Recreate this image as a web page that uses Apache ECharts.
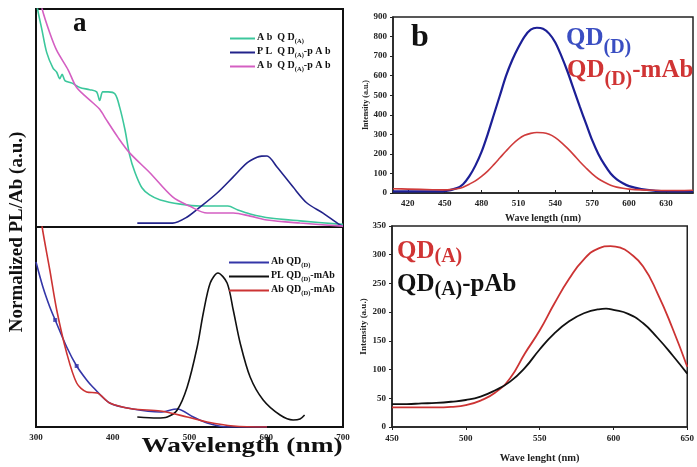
<!DOCTYPE html>
<html><head><meta charset="utf-8">
<script src="https://cdn.jsdelivr.net/npm/echarts@6/dist/echarts.min.js"></script>
<style>html,body{margin:0;padding:0;background:#fff}#c{width:697px;height:467px}</style>
</head><body><div id="c"></div>
<script>
// ---- Panel a (top-left): [wavelength nm, normalized]
var abQDA = [[300,1.08],[301,1.02],[308,0.90],[314,0.80],[322,0.73],[327,0.71],[331,0.68],[334,0.70],[338,0.67],[347,0.66],[357,0.64],[370,0.63],[379,0.62],[383,0.58],[387,0.62],[394,0.62],[403,0.61],[409,0.55],[416,0.445],[422,0.33],[429,0.25],[438,0.18],[448,0.147],[462,0.124],[488,0.105],[514,0.096],[533,0.096],[550,0.096],[563,0.078],[579,0.06],[605,0.041],[644,0.028],[700,0.012]];
var plQDApAb = [[432,0.018],[478,0.018],[497,0.046],[514,0.092],[536,0.156],[557,0.23],[575,0.294],[588,0.32],[594,0.325],[601,0.326],[614,0.275],[635,0.183],[653,0.11],[674,0.064],[696,0.01],[700,0.005]];
var abQDApAb = [[304,1.08],[308,1.0],[318,0.89],[327,0.81],[342,0.72],[353,0.64],[374,0.57],[383,0.54],[392,0.49],[407,0.41],[422,0.34],[448,0.25],[478,0.138],[500,0.096],[523,0.064],[557,0.064],[579,0.05],[601,0.032],[644,0.018],[700,0.004]];
// ---- Panel a (bottom-left)
var abQDD = [[300,0.825],[309,0.70],[318,0.60],[325,0.535],[340,0.40],[353,0.305],[366,0.235],[374,0.20],[396,0.12],[426,0.09],[462,0.075],[484,0.09],[505,0.05],[523,0.02],[549,0.0],[601,0.0]];
var abQDDMarks = [3,5];
var plQDDmAb = [[432,0.05],[458,0.045],[471,0.05],[484,0.085],[497,0.2],[510,0.4],[518,0.57],[527,0.72],[537,0.77],[549,0.72],[557,0.585],[566,0.42],[579,0.25],[596,0.135],[618,0.06],[635,0.035],[644,0.04],[650,0.06]];
var abQDDmAb = [[305,1.1],[308,1.0],[318,0.785],[327,0.585],[340,0.37],[353,0.22],[366,0.175],[380,0.17],[396,0.12],[426,0.09],[462,0.08],[497,0.05],[523,0.025],[557,0.005],[601,0.0]];
var leftTicks = [300,400,500,600,700];
// ---- Panel b (top-right): intensity
var bX = [408,420,440,450,460,465,470,475,480,485,490,495,500,505,510,515,520,525,530,535,540,545,550,555,560,565,570,575,580,585,590,595,600,610,620,630,640,652];
var qdD = [8,8,8,10,25,45,85,140,210,300,400,500,600,680,745,800,835,845,840,815,770,700,620,530,440,355,270,200,145,100,70,50,35,20,12,9,8,8];
var qdDmAb = [22,20,17,16,22,30,45,62,85,112,145,180,215,248,275,295,305,309,308,300,283,258,228,195,160,128,98,73,55,40,30,24,20,16,14,13,13,14];
var bTicks = [420,450,480,510,540,570,600,630];
// ---- bottom-right
var cX = [450,460,470,480,490,500,510,520,530,540,550,560,570,580,590,598,605,610,620,630,640,650];
var qdA = [34,34,34,34,35,38,46,60,85,128,168,215,258,292,311,315,312,305,280,232,172,105];
var cX2 = [450,460,470,480,490,500,510,520,530,540,550,560,570,580,590,595,600,610,620,630,640,650];
var qdApAb = [40,40,41,42,44,47,53,64,79,103,135,163,184,198,205,206,204,197,181,155,125,93];

var serif = 'Liberation Serif';
function xyFrom(xs, ys){return xs.map(function(x,i){return [x, ys[i]];});}

var chart = echarts.init(document.getElementById('c'));
var lineBase = {type:'line', showSymbol:false, smooth:0.3, clip:true, z:3};
function ln(name, data, color, xi, yi, w){
  return Object.assign({}, lineBase, {name:name, data:data, xAxisIndex:xi, yAxisIndex:yi,
    lineStyle:{color:color, width:w||1.6}, itemStyle:{color:color}});
}
var legRich = {
  m:{fontFamily:serif, fontWeight:'bold', fontSize:10, color:'#111', lineHeight:12, verticalAlign:'top'},
  s:{fontFamily:serif, fontWeight:'bold', fontSize:6.5, color:'#111', verticalAlign:'bottom', lineHeight:13}
};
function legFmtA(n){
  if(n==='Ab QD(A)') return '{m|A b  Q D}{s|(A)}';
  if(n==='PL QD(A)-pAb') return '{m|P L  Q D}{s|(A)}{m|-p A b}';
  if(n==='Ab QD(A)-pAb') return '{m|A b  Q D}{s|(A)}{m|-p A b}';
  if(n==='Ab QD(D)') return '{m|Ab QD}{s|(D)}';
  if(n==='PL QD(D)-mAb') return '{m|PL QD}{s|(D)}{m|-mAb}';
  if(n==='Ab QD(D)-mAb') return '{m|Ab QD}{s|(D)}{m|-mAb}';
  return n;
}
var tickLab = {fontFamily:serif, fontWeight:'bold', fontSize:9, color:'#222'};
function bigRich(col, off){
  return {
    m:{fontFamily:serif, fontWeight:'bold', fontSize:25, fill:col, lineHeight:20, verticalAlign:'top'},
    s:{fontFamily:serif, fontWeight:'bold', fontSize:20, fill:col, verticalAlign:'bottom', lineHeight:20 + 2*off}
  };
}

var option = {
  backgroundColor:'#fff',
  animation:false,
  grid:[
    {left:36, top:9, right:354, height:218, show:true, borderColor:'#111', borderWidth:2},
    {left:36, top:227, right:354, bottom:40, show:true, borderColor:'#111', borderWidth:2},
    {left:393, top:17, right:4, bottom:274, show:true, borderColor:'#222', borderWidth:1.5},
    {left:392, top:226, right:5, bottom:40, show:true, borderColor:'#222', borderWidth:1.5}
  ],
  xAxis:[
    {gridIndex:0, type:'value', min:300, max:700, interval:100, axisLabel:{show:false}, axisTick:{show:false}, splitLine:{show:false}, axisLine:{lineStyle:{color:'#111',width:2}}},
    {gridIndex:1, type:'value', min:300, max:700, interval:100, axisLabel:Object.assign({margin:6, fontSize:10, customValues:leftTicks}, tickLab), axisTick:{show:false}, splitLine:{show:false}, axisLine:{lineStyle:{color:'#111',width:2}}},
    {gridIndex:2, type:'value', min:408, max:652, axisLabel:Object.assign({margin:6, customValues:bTicks}, tickLab), axisTick:{show:true, inside:true, length:3, customValues:bTicks, lineStyle:{color:'#222'}}, splitLine:{show:false}, axisLine:{lineStyle:{color:'#222',width:1.5}},
      name:'Wave length (nm)', nameLocation:'middle', nameGap:20, nameTextStyle:{fontFamily:serif, fontWeight:'bold', fontSize:10, color:'#222'}},
    {gridIndex:3, type:'value', min:450, max:650, interval:50, axisLabel:Object.assign({margin:7}, tickLab), axisTick:{show:true, length:3, lineStyle:{color:'#222'}}, splitLine:{show:false}, axisLine:{lineStyle:{color:'#222',width:1.5}},
      name:'Wave lenght (nm)', nameLocation:'middle', nameGap:26, nameTextStyle:{fontFamily:serif, fontWeight:'bold', fontSize:10.5, color:'#222'}}
  ],
  yAxis:[
    {gridIndex:0, type:'value', min:0, max:1, axisLabel:{show:false}, axisTick:{show:false}, splitLine:{show:false}, axisLine:{lineStyle:{color:'#111',width:2}}},
    {gridIndex:1, type:'value', min:0, max:1, axisLabel:{show:false}, axisTick:{show:false}, splitLine:{show:false}, axisLine:{lineStyle:{color:'#111',width:2}}},
    {gridIndex:2, type:'value', min:0, max:900, interval:100, axisLabel:Object.assign({margin:6, fontSize:7.5}, tickLab), axisTick:{show:true, length:3, lineStyle:{color:'#222'}}, splitLine:{show:false}, axisLine:{lineStyle:{color:'#222',width:1.5}},
      name:'Intensity (a.u.)', nameLocation:'middle', nameGap:22, nameTextStyle:{fontFamily:serif, fontWeight:'bold', fontSize:8, color:'#222'}},
    {gridIndex:3, type:'value', min:0, max:350, interval:50, axisLabel:Object.assign({margin:6, fontSize:8.5}, tickLab), axisTick:{show:true, length:3, lineStyle:{color:'#222'}}, splitLine:{show:false}, axisLine:{lineStyle:{color:'#222',width:1.5}},
      name:'Intensity (a.u.)', nameLocation:'middle', nameGap:20, nameTextStyle:{fontFamily:serif, fontWeight:'bold', fontSize:9, color:'#222'}}
  ],
  legend:[
    {data:['Ab QD(A)','PL QD(A)-pAb','Ab QD(A)-pAb'], left:225, top:27, orient:'vertical', itemGap:1, itemWidth:25, itemHeight:2, icon:'rect', formatter:legFmtA, textStyle:{rich:legRich, padding:[0,0,0,-3]}},
    {data:['Ab QD(D)','PL QD(D)-mAb','Ab QD(D)-mAb'], left:224, top:251, orient:'vertical', itemGap:1, itemWidth:40, itemHeight:2, icon:'rect', formatter:legFmtA, textStyle:{rich:legRich, padding:[0,0,0,-3]}}
  ],
  series:[
    ln('Ab QD(A)', abQDA, '#3cc79c', 0, 0, 1.6),
    ln('PL QD(A)-pAb', plQDApAb, '#22238a', 0, 0, 1.6),
    ln('Ab QD(A)-pAb', abQDApAb, '#d45fc2', 0, 0, 1.6),
    ln('Ab QD(D)', abQDD, '#3436a8', 1, 1, 1.6),
    ln('PL QD(D)-mAb', plQDDmAb, '#111111', 1, 1, 1.6),
    ln('Ab QD(D)-mAb', abQDDmAb, '#cc3333', 1, 1, 1.6),
    {type:'scatter', xAxisIndex:1, yAxisIndex:1, symbol:'rect', symbolSize:4, itemStyle:{color:'#3436a8'}, data:abQDDMarks.map(function(i){return abQDD[i];}), z:4},
    ln('QD(D)', xyFrom(bX, qdD), '#1c1f96', 2, 2, 2.2),
    ln('QD(D)-mAb', xyFrom(bX, qdDmAb), '#cf3b3b', 2, 2, 1.6),
    Object.assign(ln('QD(A)', xyFrom(cX, qdA), '#cc3333', 3, 3, 1.8), {smooth:0.5}),
    Object.assign(ln('QD(A)-pAb', xyFrom(cX2, qdApAb), '#111111', 3, 3, 1.8), {smooth:0.5})
  ],
  graphic:[
    {type:'text', left:73, top:11, style:{text:'a', fontFamily:serif, fontWeight:'bold', fontSize:27, fill:'#111'}},
    {type:'text', left:411, top:22, style:{text:'b', fontFamily:serif, fontWeight:'bold', fontSize:32, fill:'#111'}},
    {type:'text', x:17, y:232, rotation:Math.PI/2, style:{text:'Normalized PL/Ab (a.u.)', fontFamily:serif, fontWeight:'bold', fontSize:19, fill:'#111', align:'center', verticalAlign:'middle'}},
    {type:'text', x:242, y:447, scaleX:1.3, style:{text:'Wavelength (nm)', fontFamily:serif, fontWeight:'bold', fontSize:21, fill:'#111', align:'center', verticalAlign:'middle'}},
    {type:'text', left:566, top:26, style:{text:'{m|QD}{s|(D)}', rich:bigRich('#3a4ec2', 6)}},
    {type:'text', left:567, top:58, style:{text:'{m|QD}{s|(D)}{m|-mAb}', rich:bigRich('#d03434', 6)}},
    {type:'text', left:397, top:239, style:{text:'{m|QD}{s|(A)}', rich:bigRich('#d03434', 4)}},
    {type:'text', left:397, top:272, style:{text:'{m|QD}{s|(A)}{m|-pAb}', rich:bigRich('#111', 4)}}
  ]
};
chart.setOption(option);
</script></body></html>
